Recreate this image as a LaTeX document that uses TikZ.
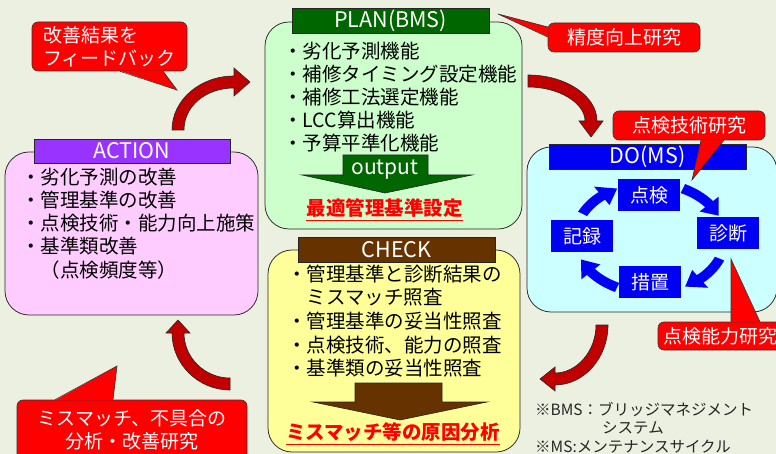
\documentclass[tikz,border=0pt]{standalone}
\usepackage{fontspec}
\setmainfont{Noto Sans CJK JP}
\usepackage{tikz}
\usetikzlibrary{calc}

\definecolor{bgcol}{RGB}{236,240,224}
\definecolor{planfill}{RGB}{204,255,204}
\definecolor{planhead}{RGB}{0,102,0}
\definecolor{actfill}{RGB}{255,204,255}
\definecolor{acthead}{RGB}{153,51,255}
\definecolor{chkfill}{RGB}{255,255,153}
\definecolor{chkhead}{RGB}{102,51,0}
\definecolor{dofill}{RGB}{204,255,255}
\definecolor{doblue}{RGB}{0,0,245}
\definecolor{arrowred}{RGB}{192,0,0}

\begin{document}
\begin{tikzpicture}[x=1pt,y=1pt,yscale=-1,
    box/.style={draw=black!85, line width=0.75pt, rounded corners=24pt, inner sep=0pt},
    boxhead/.style={draw=black!85, line width=0.6pt, inner sep=0pt, minimum width=197pt, minimum height=25pt, text=white, font=\fontsize{21.5}{21.5}\selectfont},
    listline/.style={anchor=base west, inner sep=0pt, text=black, font=\fontsize{19.5}{19.5}\selectfont},
    cycbox/.style={fill=doblue, inner sep=0pt, minimum width=62pt, minimum height=32pt, text=white, font=\fontsize{19}{19}\selectfont},
    callout/.style={draw=black!80, line width=0.6pt, fill=red, rounded corners=6pt, inner sep=0pt, text=white, font=\fontsize{19}{23}\selectfont},
    wedge/.style={draw=black!80, line width=0.6pt},
    bigarrow/.style={fill=arrowred, draw=black!85, line width=0.6pt},
    result/.style={inner sep=0pt, text=red, font=\bfseries\fontsize{19.5}{19.5}\selectfont},
    note/.style={anchor=base west, inner sep=0pt, text=black!85, font=\fontsize{15.5}{15.5}\selectfont}
  ]
  % background
  \fill[bgcol] (0,0) rectangle (776,454);
  \useasboundingbox (0,0) rectangle (776,454);

  %Shape: Rounded Rectangle (PLAN)
  \node[box, fill=planfill, minimum width=257pt, minimum height=207pt] (plan) at (393.5,125.5) {};
  \node[boxhead, fill=planhead] (planhead) at (390.5,21) {PLAN(BMS)};
  \foreach \t [count=\i from 0] in {劣化予測機能, 補修タイミング設定機能, 補修工法選定機能, LCC算出機能, 予算平準化機能}
    \node[listline] (plan-\i) at (283,58.2+23.1*\i) {・\t};
  %Shape: Down Arrow (output)
  \draw[fill=planhead, draw=black!85, line width=0.6pt] (343,155) -- (428,155) -- (428,175) -- (472,175) -- (385,193) -- (302,175) -- (343,175) -- cycle;
  \node[inner sep=0pt, text=white, font=\fontsize{21}{21}\selectfont] (output) at (385,170) {output};
  % Text Node
  \node[result] (planres) at (384.5,208.5) {最適管理基準設定};
  \draw[red, line width=1.5pt] ($(planres.base west)+(0,4.5)$) -- ($(planres.base east)+(0,4.5)$);

  %Shape: Rounded Rectangle (ACTION)
  \node[box, fill=actfill, minimum width=253pt, minimum height=163pt] (action) at (131.5,233.5) {};
  \node[boxhead, fill=acthead, minimum width=196pt, minimum height=24pt] (acthead) at (132,151) {ACTION};
  \foreach \t [count=\i from 0] in {・劣化予測の改善, ・管理基準の改善, ・点検技術・能力向上施策, ・基準類改善, \hphantom{・}（点検頻度等）}
    \node[listline] (act-\i) at (21,184.7+23.1*\i) {\t};

  %Shape: Rounded Rectangle (CHECK)
  \node[box, fill=chkfill, minimum width=252pt, minimum height=202pt] (check) at (394,351) {};
  \node[boxhead, fill=chkhead] (chkhead) at (396.5,249.5) {CHECK};
  \foreach \t [count=\i from 0] in {・管理基準と診断結果の, \hphantom{・}ミスマッチ照査, ・管理基準の妥当性照査, ・点検技術、能力の照査, ・基準類の妥当性照査}
    \node[listline] (chk-\i) at (287,281.2+23.6*\i) {\t};
  %Shape: Down Arrow
  \draw[fill=chkhead, draw=black!85, line width=0.6pt] (355,383) -- (442,383) -- (442,402) -- (487,402) -- (400,420) -- (313,402) -- (355,402) -- cycle;
  % Text Node
  \node[result] (chkres) at (393,432.5) {ミスマッチ等の原因分析};
  \draw[red, line width=1.5pt] ($(chkres.base west)+(0,4.5)$) -- ($(chkres.base east)+(0,4.5)$);

  %Shape: Rounded Rectangle (DO)
  \node[box, fill=dofill, minimum width=250pt, minimum height=165pt] (do) at (652,229.5) {};
  \node[boxhead, fill=doblue] (dohead) at (647.5,156.5) {DO(MS)};
  % cycle arrows
  \foreach \a/\b/\c in {296/322/336, 22/48/62, 116/142/157, 206/230/244}
    \fill[doblue, shift={(650,238)}] (\a:80 and 60) arc[start angle=\a, end angle=\b, x radius=80, y radius=60] -- (\b:87 and 67) -- (\c:75 and 55) -- (\b:63 and 43) -- (\b:70 and 50) arc[start angle=\b, end angle=\a, x radius=70, y radius=50] -- cycle;
  \node[cycbox] (insp) at (649,195) {点検};
  \node[cycbox] (diag) at (728,233.5) {診断};
  \node[cycbox] (meas) at (650,282) {措置};
  \node[cycbox] (rec) at (582,236.5) {記録};

  %Shape: Curved Arrows
  \draw[bigarrow] (172,130) .. controls (172,100) and (200,76) .. (234,76) -- (234,68) -- (250,82) -- (234,96) -- (234,88) .. controls (206,88) and (184,106) .. (184,130) -- cycle;
  \draw[bigarrow] (528,75) .. controls (566,75) and (597,96) .. (597,121) -- (603,121) -- (591,137) -- (579,121) -- (585,121) .. controls (585,103) and (559,87) .. (528,87) -- cycle;
  \draw[bigarrow] (608,325) .. controls (608,358) and (584,385) .. (555,385) -- (555,391) -- (540,379) -- (555,367) -- (555,373) .. controls (577,373) and (596,351) .. (596,325) -- cycle;
  \draw[bigarrow] (230,390) .. controls (198,390) and (172,364) .. (172,333) -- (166,333) -- (178,320) -- (190,333) -- (184,333) .. controls (184,358) and (205,378) .. (230,378) -- cycle;

  %Shape: Callouts
  \node[callout, minimum width=155pt, minimum height=49pt, align=left] (feedback) at (109.5,46.5) {改善結果を\\フィードバック};
  \coordinate (feedtip) at (177,90);
  \fill[red] ($(feedback.south)+(10.5,-0.6)$) -- (feedtip) -- ($(feedback.south)+(53.5,-0.6)$) -- cycle;
  \draw[wedge] ($(feedback.south)+(10.5,0)$) -- (feedtip) -- ($(feedback.south)+(53.5,0)$);

  \node[callout, minimum width=152pt, minimum height=29pt] (accuracy) at (624,37.5) {精度向上研究};
  \coordinate (acctip) at (498,14);
  \fill[red] ($(accuracy.west)+(0.6,-10.5)$) -- (acctip) -- ($(accuracy.west)+(0.6,-0.5)$) -- cycle;
  \draw[wedge] ($(accuracy.west)+(0,-10.5)$) -- (acctip) -- ($(accuracy.west)+(0,-0.5)$);

  \node[callout, minimum width=152pt, minimum height=29pt] (techres) at (689,125.5) {点検技術研究};
  \coordinate (techtip) at (692,180);
  \fill[red] ($(techres.south)+(12,-0.6)$) -- (techtip) -- ($(techres.south)+(35,-0.6)$) -- cycle;
  \draw[wedge] ($(techres.south)+(12,0)$) -- (techtip) -- ($(techres.south)+(35,0)$);

  \node[callout, minimum width=124pt, minimum height=28pt] (skillres) at (720,336) {点検能力研究};
  \coordinate (skilltip) at (731,259);
  \fill[red] ($(skillres.north)+(11,0.6)$) -- (skilltip) -- ($(skillres.north)+(40,0.6)$) -- cycle;
  \draw[wedge] ($(skillres.north)+(11,0)$) -- (skilltip) -- ($(skillres.north)+(40,0)$);

  \node[callout, minimum width=230pt, minimum height=60pt, align=center] (mismatch) at (132,430) {ミスマッチ、不具合の\\分析・改善研究};
  \coordinate (mistip) at (117,366);
  \fill[red] ($(mismatch.north)+(-77,0.6)$) -- (mistip) -- ($(mismatch.north)+(-19,0.6)$) -- cycle;
  \draw[wedge] ($(mismatch.north)+(-77,0)$) -- (mistip) -- ($(mismatch.north)+(-19,0)$);

  % Text Node
  \node[note] (bmsnote) at (535,415) {※BMS：ブリッジマネジメント};
  \node[note] (bmsnote2) at (602,433.5) {システム};
  \node[note] (msnote) at (535,452) {※MS:メンテナンスサイクル};
\end{tikzpicture}
\end{document}
